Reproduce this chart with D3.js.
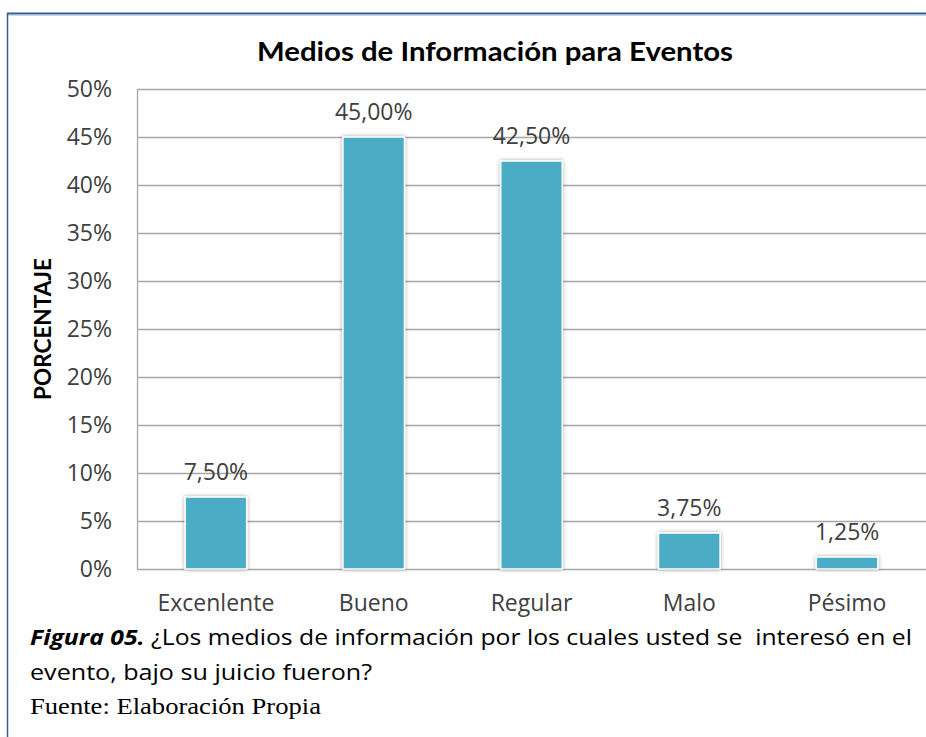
<!DOCTYPE html>
<html><head><meta charset="utf-8">
<script src="https://cdn.jsdelivr.net/npm/d3@7/dist/d3.min.js"></script>
<style>
html,body{margin:0;padding:0;background:#fff;}
svg{display:block;}
</style></head>
<body>
<svg id="chart" width="926" height="737"></svg>
<script>
const categories = ["Excenlente", "Bueno", "Regular", "Malo", "Pésimo"];
const values = [7.5, 45.0, 42.5, 3.75, 1.25];
const valueLabels = ["7,50%", "45,00%", "42,50%", "3,75%", "1,25%"];
const yTicks = [0, 5, 10, 15, 20, 25, 30, 35, 40, 45, 50];
const title = "Medios de Información para Eventos";
const yTitle = "PORCENTAJE";
const captionBold = "Figura 05.";
const captionRest1 = " ¿Los medios de información por los cuales usted se  interesó en el";
const captionLine2 = "evento, bajo su juicio fueron?";
const source = "Fuente: Elaboración Propia";

const svg = d3.select("#chart");
const W = 926, H = 737;
const plot = {left: 137, right: 926, top: 89, bottom: 569};
const sans = "'Open Sans', 'Noto Sans', sans-serif";

// frame
svg.append("line").attr("x1", 7).attr("x2", W).attr("y1", 13.5).attr("y2", 13.5)
  .attr("stroke", "#365f91").attr("stroke-width", 2);
svg.append("line").attr("x1", 7).attr("x2", W).attr("y1", 15).attr("y2", 15)
  .attr("stroke", "#95b3d7").attr("stroke-width", 1);
svg.append("line").attr("x1", 7.5).attr("x2", 7.5).attr("y1", 13).attr("y2", H)
  .attr("stroke", "#365f91").attr("stroke-width", 1.5);

const x = d3.scaleBand().domain(categories).range([plot.left, plot.right]).paddingInner(0.61).paddingOuter(0.305);
const y = d3.scaleLinear().domain([0, 50]).range([plot.bottom, plot.top]);

// gridlines
const grid = svg.append("g");
grid.selectAll("line").data(yTicks).join("line")
  .attr("x1", plot.left).attr("x2", plot.right)
  .attr("y1", d => Math.round(y(d)) + 0.5).attr("y2", d => Math.round(y(d)) + 0.5)
  .attr("stroke", "#a6a6a6").attr("stroke-width", 1.3);
svg.append("line").attr("x1", plot.left + 0.5).attr("x2", plot.left + 0.5)
  .attr("y1", plot.top).attr("y2", plot.bottom).attr("stroke", "#a6a6a6").attr("stroke-width", 1.3);

// y axis
const yAxis = d3.axisLeft(y).tickValues(yTicks).tickFormat(d => d + "%").tickSize(0).tickPadding(25);
const gy = svg.append("g").attr("transform", `translate(${plot.left},0)`).call(yAxis);
gy.select(".domain").remove();
gy.selectAll("text").attr("font-family", sans).attr("font-size", 23)
  .attr("fill", "#404040");

// x axis
const xAxis = d3.axisBottom(x).tickSize(0).tickPadding(26);
const gx = svg.append("g").attr("transform", `translate(0,${plot.bottom})`).call(xAxis);
gx.select(".domain").remove();
gx.selectAll("text").attr("font-family", sans).attr("font-size", 23)
  .attr("fill", "#404040");

// shadow filter
const defs = svg.append("defs");
const f = defs.append("filter").attr("id", "sh").attr("x", "-20%").attr("y", "-20%").attr("width", "140%").attr("height", "140%");
f.append("feGaussianBlur").attr("in", "SourceAlpha").attr("stdDeviation", 2);
f.append("feOffset").attr("dx", 0).attr("dy", 0).attr("result", "b");
f.append("feComponentTransfer").append("feFuncA").attr("type", "linear").attr("slope", 0.35);
const m = f.append("feMerge");
m.append("feMergeNode");
m.append("feMergeNode").attr("in", "SourceGraphic");

// bars
svg.append("g").selectAll("rect").data(values).join("rect")
  .attr("x", (d, i) => x(categories[i]))
  .attr("width", x.bandwidth())
  .attr("y", d => y(d))
  .attr("height", d => y(0) - y(d))
  .attr("fill", "#4bacc6")
  .attr("stroke", "#ffffff").attr("stroke-width", 1.5)
  .attr("filter", "url(#sh)");

// value labels
svg.append("g").selectAll("text").data(values).join("text")
  .attr("x", (d, i) => x(categories[i]) + x.bandwidth() / 2)
  .attr("y", d => y(d) - 17)
  .attr("text-anchor", "middle")
  .attr("font-family", sans).attr("font-size", 23)
  .attr("fill", "#404040")
  .text((d, i) => valueLabels[i]);

// title
svg.append("text").attr("x", 495).attr("y", 61).attr("text-anchor", "middle")
  .attr("font-family", "Lato, sans-serif").attr("font-weight", "bold").attr("font-size", 27)
  .attr("textLength", 476).attr("lengthAdjust", "spacingAndGlyphs")
  .attr("fill", "#000").text(title);

// y title
svg.append("text").attr("transform", `translate(51,${329}) rotate(-90)`)
  .attr("text-anchor", "middle")
  .attr("font-family", "Lato, sans-serif").attr("font-weight", "bold").attr("font-size", 22)
  .attr("textLength", 142).attr("lengthAdjust", "spacingAndGlyphs")
  .attr("fill", "#000").text(yTitle);

// caption
const cap = svg.append("text").attr("x", 30).attr("y", 645)
  .attr("font-family", sans).attr("font-size", 22).attr("fill", "#000")
  .attr("textLength", 882).attr("lengthAdjust", "spacingAndGlyphs");
cap.append("tspan").attr("font-weight", "bold").attr("font-style", "italic").text(captionBold);
cap.append("tspan").style("white-space", "pre").text(captionRest1);
svg.append("text").attr("x", 30).attr("y", 680)
  .attr("font-family", sans).attr("font-size", 22).attr("fill", "#000")
  .attr("textLength", 342).attr("lengthAdjust", "spacingAndGlyphs")
  .text(captionLine2);
svg.append("text").attr("x", 30).attr("y", 714)
  .attr("font-family", "'Liberation Serif', 'Times New Roman', serif").attr("font-size", 23).attr("fill", "#000")
  .attr("textLength", 291).attr("lengthAdjust", "spacingAndGlyphs")
  .text(source);
</script>
</body></html>
